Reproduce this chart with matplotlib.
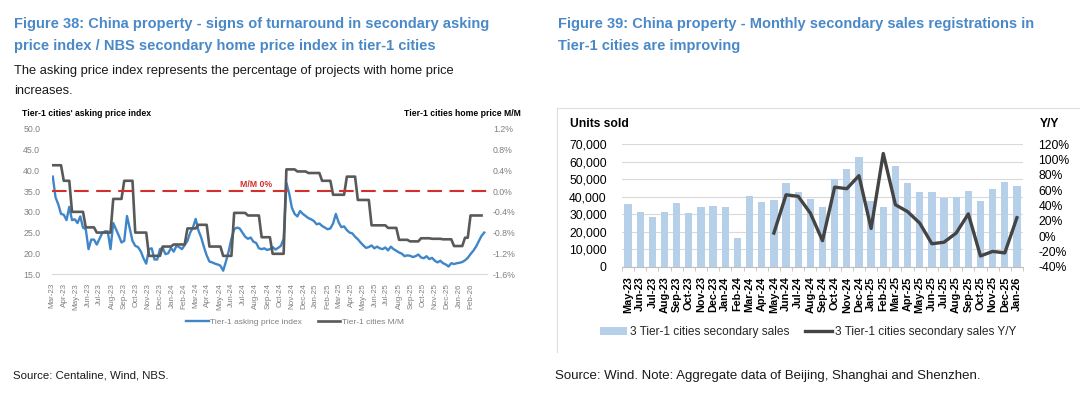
import numpy as np
import pandas as pd
import matplotlib
matplotlib.use("Agg")
import matplotlib.pyplot as plt
import matplotlib.dates as mdates
from matplotlib.lines import Line2D
from matplotlib.patches import Patch
from matplotlib.ticker import FuncFormatter, MultipleLocator, FixedLocator

plt.rcParams['font.family'] = ['Liberation Sans', 'DejaVu Sans']

# ---- Figure 38 data ----
# weekly Centaline asking price index, tier-1 cities (first reading 2023-03-03)
asking_first_week = "2023-03-03"
asking_index = [
    38.5, 33.5, 31.8, 29.5, 29.3, 28.0, 31.2, 28.0, 28.2, 27.3,
    28.9, 26.2, 25.8, 21.0, 23.3, 23.3, 22.1, 23.5, 24.9, 25.3,
    25.3, 21.0, 27.3, 25.8, 24.3, 22.6, 23.0, 29.0, 26.0, 23.0,
    21.8, 21.5, 20.5, 18.8, 17.5, 21.0, 21.2, 18.5, 18.5, 21.0,
    21.3, 19.8, 20.0, 21.3, 20.4, 21.8, 21.5, 21.0, 22.0, 23.0,
    25.0, 26.2, 28.3, 25.5, 23.8, 21.5, 19.5, 18.0, 17.8, 17.5,
    17.3, 17.0, 15.8, 18.0, 20.5, 23.5, 25.8, 26.2, 26.0, 25.0,
    24.0, 23.5, 23.8, 22.8, 22.5, 21.2, 21.0, 21.2, 20.8, 21.0,
    21.5, 20.9, 21.3, 21.8, 23.5, 37.0, 34.5, 31.0, 29.5, 28.9,
    30.2, 29.5, 29.0, 28.5, 28.2, 27.8, 27.0, 27.2, 26.6, 26.2,
    25.8, 26.0, 27.2, 29.5, 27.5, 26.3, 26.5, 25.6, 25.0, 24.8,
    24.0, 23.4, 22.6, 21.9, 21.3, 21.5, 21.9, 21.2, 21.6, 21.2,
    21.0, 21.4, 20.7, 21.6, 21.0, 20.6, 20.2, 19.9, 19.3, 19.5,
    19.4, 19.1, 19.3, 19.7, 19.0, 18.8, 19.3, 18.6, 18.9, 18.2,
    17.8, 18.2, 17.6, 17.3, 16.8, 17.6, 17.4, 17.6, 17.7, 17.9,
    18.3, 18.9, 19.8, 20.6, 21.6, 22.9, 24.2, 25.0,
]

# NBS tier-1 secondary home price M/M (%), with the week each reading starts on the chart
mm_start = [
    "2023-03-03", "2023-03-31", "2023-04-21", "2023-05-26", "2023-06-23", "2023-08-04",
    "2023-09-01", "2023-09-29", "2023-11-03", "2023-12-08", "2024-01-05", "2024-02-09",
    "2024-03-08", "2024-04-05", "2024-05-10", "2024-06-07", "2024-07-12", "2024-08-16",
    "2024-09-13", "2024-10-18", "2024-11-15", "2024-12-13", "2025-01-17", "2025-02-14",
    "2025-03-21", "2025-04-18", "2025-05-23", "2025-07-04", "2025-08-01", "2025-08-29",
    "2025-09-26", "2025-10-24", "2025-11-21", "2025-12-19", "2026-01-16", "2026-01-30",
]
mm_value = [
    0.50, 0.20, -0.40, -0.70, -0.80, -0.15,
    0.20, -0.80, -1.25, -1.07, -1.03, -0.72,
    -0.65, -1.07, -1.25, -0.42, -0.47, -0.89,
    -1.21, 0.42, 0.38, 0.35, 0.20, -0.07,
    0.28, -0.17, -0.66, -0.71, -0.94, -0.97,
    -0.91, -0.92, -0.93, -1.06, -0.90, -0.47,
]
mm_last_week = "2026-02-27"

# month labels on the x axis
label_first_month = "2023-03-01"
label_last_month = "2026-02-01"

# ---- Figure 39 data ----
months = [
    "May-23", "Jun-23", "Jul-23", "Aug-23", "Sep-23", "Oct-23", "Nov-23", "Dec-23",
    "Jan-24", "Feb-24", "Mar-24", "Apr-24", "May-24", "Jun-24", "Jul-24", "Aug-24",
    "Sep-24", "Oct-24", "Nov-24", "Dec-24", "Jan-25", "Feb-25", "Mar-25", "Apr-25",
    "May-25", "Jun-25", "Jul-25", "Aug-25", "Sep-25", "Oct-25", "Nov-25", "Dec-25",
    "Jan-26",
]
sales = [
    36000, 31200, 28500, 31500, 36300, 30800, 34300, 34900,
    34300, 16600, 40400, 37000, 38000, 47800, 43000, 38500,
    34000, 50300, 56000, 62700, 37400, 34200, 57700, 47900,
    42800, 42800, 39500, 39600, 43500, 37300, 44400, 48400,
    46400,
]
yoy_first = "May-24"
sales_yoy = [
    4, 54, 52, 30, -6, 64, 62, 79, 10, 108, 41, 32,
    17, -10, -8, 4, 29, -26, -20, -22, 24,
]

TITLE_BLUE = '#4A89C8'
ASK_BLUE = '#3F86C8'
MM_GRAY = '#595959'
RED = '#D2302E'
BAR_BLUE = '#B6D0EA'
YOY_GRAY = '#444444'
TICK_GRAY = '#808080'


def fx(px):
    return px / 1080


def fy(py):
    return 1 - py / 394


fig = plt.figure(figsize=(10.8, 3.94), dpi=100)

# ---------------- left panel ----------------
fig.text(fx(14), fy(28), "Figure 38: China property - signs of turnaround in secondary asking",
         color=TITLE_BLUE, fontsize=10.55, fontweight='bold', va='baseline')
fig.text(fx(14), fy(50), "price index / NBS secondary home price index in tier-1 cities",
         color=TITLE_BLUE, fontsize=10.55, fontweight='bold', va='baseline')
fig.text(fx(14), fy(74), "The asking price index represents the percentage of projects with home price",
         color='#1a1a1a', fontsize=9.25, va='baseline')
fig.text(fx(14), fy(94), "increases.", color='#1a1a1a', fontsize=9.25, va='baseline')
fig.text(fx(22), fy(113), "Tier-1 cities' asking price index", fontsize=6.2,
         fontweight='bold', va='center')
fig.text(fx(521), fy(113), "Tier-1 cities home price M/M", fontsize=6.2,
         fontweight='bold', va='center', ha='right')

weeks = pd.date_range(asking_first_week, periods=len(asking_index), freq='7D')
mm_weeks = weeks[weeks <= pd.Timestamp(mm_last_week)]
step_idx = np.searchsorted(pd.to_datetime(mm_start).values, mm_weeks.values, side='right') - 1
mm_weekly = np.array(mm_value)[step_idx]

ax1 = fig.add_axes([fx(52), fy(274), fx(487) - fx(52), fy(129) - fy(274)])
ax2 = ax1.twinx()

ax1.plot(weeks, asking_index, color=ASK_BLUE, lw=1.7)
ax2.plot(mm_weeks, mm_weekly, color=MM_GRAY, lw=1.9)
ax2.axhline(0, color=RED, lw=1.5, linestyle=(0, (7.0, 3.6)))
ax2.annotate("M/M 0%", xy=(pd.Timestamp("2024-08-01"), 0), xytext=(0, 1.5),
             textcoords='offset points', ha='center', va='bottom',
             color=RED, fontsize=6.3, fontweight='bold')

ax1.set_ylim(15, 50)
ax1.yaxis.set_major_locator(MultipleLocator(5))
ax1.yaxis.set_major_formatter(FuncFormatter(lambda v, p: f"{v:.1f}"))
ax2.set_ylim(-1.6, 1.2)
ax2.yaxis.set_major_locator(MultipleLocator(0.4))
ax2.yaxis.set_major_formatter(FuncFormatter(lambda v, p: f"{v:.1f}%"))
ax1.set_xlim(pd.Timestamp("2023-03-01"), pd.Timestamp("2026-03-13"))
label_months = pd.date_range(label_first_month, label_last_month, freq='MS')
ax1.xaxis.set_major_locator(FixedLocator(mdates.date2num(label_months)))
ax1.xaxis.set_major_formatter(mdates.DateFormatter('%b-%y'))

for a in (ax1, ax2):
    for s in a.spines.values():
        s.set_visible(False)
ax1.spines['bottom'].set_visible(True)
ax1.spines['bottom'].set_color('#D9D9D9')
ax1.tick_params(axis='y', length=0, labelsize=6.3, labelcolor=TICK_GRAY, pad=8.5)
ax2.tick_params(axis='y', length=0, labelsize=6.3, labelcolor=TICK_GRAY, pad=4.3)
ax1.tick_params(axis='x', length=0, labelsize=5.8, labelcolor=TICK_GRAY, pad=6.5,
                labelrotation=90)

left_handles = [Line2D([], [], color=ASK_BLUE, lw=1.7), Line2D([], [], color=MM_GRAY, lw=1.9)]
fig.legend(left_handles, ["Tier-1 asking price index", "Tier-1 cities M/M"],
           loc='center', bbox_to_anchor=(fx(295), fy(322)), ncol=2, frameon=False,
           fontsize=6, labelcolor=TICK_GRAY, handlelength=2.7, handletextpad=0.15,
           columnspacing=1.9)

fig.text(fx(13), fy(376), "Source: Centaline, Wind, NBS.", fontsize=8.2, va='center',
         color='#1a1a1a')

# ---------------- right panel ----------------
fig.text(fx(558), fy(28), "Figure 39: China property - Monthly secondary sales registrations in",
         color=TITLE_BLUE, fontsize=10.55, fontweight='bold', va='baseline')
fig.text(fx(558), fy(50), "Tier-1 cities are improving",
         color=TITLE_BLUE, fontsize=10.55, fontweight='bold', va='baseline')

fig.add_artist(Line2D([fx(557), fx(1080)], [fy(108), fy(108)], transform=fig.transFigure,
                      color='#DDDDDD', lw=0.8))
fig.add_artist(Line2D([fx(557), fx(557)], [fy(108), fy(352)], transform=fig.transFigure,
                      color='#DDDDDD', lw=0.8))

fig.text(fx(570), fy(124), "Units sold", fontsize=8.7, fontweight='bold', va='center')
fig.text(fx(1040), fy(124), "Y/Y", fontsize=8.7, fontweight='bold', va='center')

ax3 = fig.add_axes([fx(622), fy(266.7), fx(1023) - fx(622), fy(144.3) - fy(266.7)])
ax4 = ax3.twinx()

x = np.arange(len(months))
ax3.bar(x, sales, width=0.6, color=BAR_BLUE, zorder=2)
yoy_x = np.arange(months.index(yoy_first), months.index(yoy_first) + len(sales_yoy))
ax4.plot(yoy_x, sales_yoy, color=YOY_GRAY, lw=2.4)

ax3.set_xlim(-0.5, len(months) - 0.5)
ax3.set_ylim(0, 70000)
ax3.yaxis.set_major_locator(MultipleLocator(10000))
ax3.yaxis.set_major_formatter(FuncFormatter(lambda v, p: f"{v:,.0f}"))
ax4.set_ylim(-40, 120)
ax4.yaxis.set_major_locator(MultipleLocator(20))
ax4.yaxis.set_major_formatter(FuncFormatter(lambda v, p: f"{v:.0f}%"))
ax3.yaxis.grid(True, color='#D9D9D9', lw=0.8)
ax3.set_axisbelow(True)

ax3.set_xticks(x)
ax3.set_xticklabels(months, rotation=90, fontsize=7.8, fontweight='bold')
ax3.set_xticks(np.arange(-0.5, len(months), 1), minor=True)
ax3.tick_params(axis='x', which='major', length=0, pad=7.0)
ax3.tick_params(axis='x', which='minor', length=3, color='#BFBFBF')

for a in (ax3, ax4):
    for s in a.spines.values():
        s.set_visible(False)
ax3.spines['bottom'].set_visible(True)
ax3.spines['bottom'].set_color('#BFBFBF')
ax3.tick_params(axis='y', length=0, labelsize=8.7, pad=11)
ax4.tick_params(axis='y', length=0, labelsize=8.7, pad=11)

right_handles = [Patch(facecolor=BAR_BLUE), Line2D([], [], color=YOY_GRAY, lw=2.4)]
fig.legend(right_handles, ["3 Tier-1 cities secondary sales", "3 Tier-1 cities secondary sales Y/Y"],
           loc='center', bbox_to_anchor=(fx(808), fy(332)), ncol=2, frameon=False,
           fontsize=8.6, labelcolor='#262626', handlelength=2.3, handletextpad=0.2,
           columnspacing=1.3)

fig.text(fx(555), fy(376), "Source: Wind. Note: Aggregate data of Beijing, Shanghai and Shenzhen.",
         fontsize=9.5, va='center', color='#1a1a1a')

plt.savefig("out.png", dpi=100)
plt.close()
